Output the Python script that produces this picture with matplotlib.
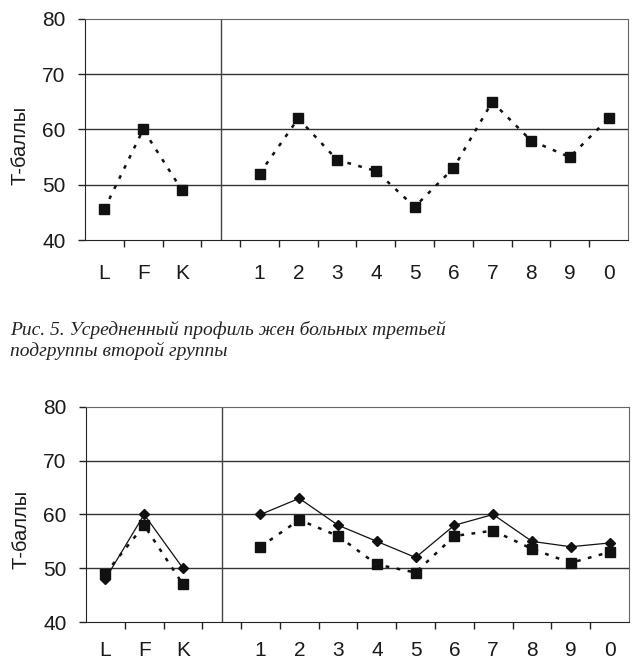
import matplotlib
matplotlib.use('Agg')
import matplotlib.pyplot as plt
import numpy as np

# Scale labels (blank slot separates validity scales from clinical scales)
labels = ['L', 'F', 'K', '', '1', '2', '3', '4', '5', '6', '7', '8', '9', '0']
gap_index = 3

# Fig. 5 (top): one series
top_vals = [45.6, 60, 49, None, 52, 62, 54.5, 52.5, 46, 53, 65, 58, 55, 62]

# Bottom chart: two series
bot_solid = [48, 60, 50, None, 60, 63, 58, 55, 52, 58, 60, 55, 54, 54.7]
bot_dash = [49, 58, 47, None, 54, 59, 56, 50.7, 49.2, 56, 57, 53.6, 51, 53]

caption_lines = ['Рис. 5. Усредненный профиль жен больных третьей',
                 'подгруппы второй группы']

plt.rcParams['font.family'] = ['Liberation Sans', 'DejaVu Sans']

fig = plt.figure(figsize=(6.35, 6.61), dpi=100)
ax_top = fig.add_axes([0.1339, 0.6369, 0.855, 0.3344])
ax_bot = fig.add_axes([0.1354, 0.0590, 0.855, 0.3253])

x = np.arange(len(labels))


def split(vals):
    # two groups: validity scales and clinical scales
    xs1 = [i for i in range(gap_index)]
    xs2 = [i for i in range(gap_index + 1, len(vals))]
    return (xs1, [vals[i] for i in xs1]), (xs2, [vals[i] for i in xs2])


def style_axes(ax, xpad):
    ax.set_xlim(-0.5, len(labels) - 0.5)
    ax.set_ylim(40, 80)
    ax.set_yticks([40, 50, 60, 70, 80])
    ax.set_xticks(x)
    ax.set_xticklabels(labels)
    ax.set_xticks(np.arange(0.5, len(labels) - 1, 1), minor=True)
    ax.tick_params(axis='x', which='major', length=0, pad=xpad,
                   labelsize=15, labelcolor='#1a1a1a')
    ax.tick_params(axis='x', which='minor', length=5, width=1, color='#222222')
    ax.tick_params(axis='y', length=5, width=1, labelsize=15,
                   labelcolor='#1a1a1a', color='#222222', pad=9)
    for v in [50, 60, 70]:
        ax.axhline(v, color='#333333', lw=1.0, zorder=1)
    ax.axvline(gap_index, color='#444444', lw=1.0, zorder=1)
    ax.spines['left'].set_color('#222222')
    ax.spines['bottom'].set_color('#222222')
    ax.spines['top'].set_color('#666666')
    ax.spines['right'].set_color('#666666')
    ax.set_ylabel('Т-баллы', fontsize=14.5, color='#1a1a1a')
    ax.yaxis.set_label_coords(-0.102, 0.43)


# top chart
for xs, ys in split(top_vals):
    ax_top.plot(xs, ys, color='#111111', lw=1.8, dashes=(1.5, 3.0),
                marker='s', markersize=6.5, markerfacecolor='#111111',
                markeredgecolor='#111111', zorder=3)
style_axes(ax_top, 17)

# bottom chart
for xs, ys in split(bot_solid):
    ax_bot.plot(xs, ys, color='#111111', lw=0.9, linestyle='-',
                marker='D', markersize=5.5, markerfacecolor='#111111',
                markeredgecolor='#111111', zorder=3)
for xs, ys in split(bot_dash):
    ax_bot.plot(xs, ys, color='#111111', lw=1.8, dashes=(1.5, 3.0),
                marker='s', markersize=6.5, markerfacecolor='#111111',
                markeredgecolor='#111111', zorder=4)
style_axes(ax_bot, 14)

# caption between the charts (baselines at ~335 and ~356 px from top)
for line, ypx in zip(caption_lines, [335, 356]):
    fig.text(0.016, 1 - ypx / 661, line, fontsize=14, family='Liberation Serif',
             style='italic', color='#222222', va='baseline', ha='left')

fig.savefig('out.png', dpi=100)
